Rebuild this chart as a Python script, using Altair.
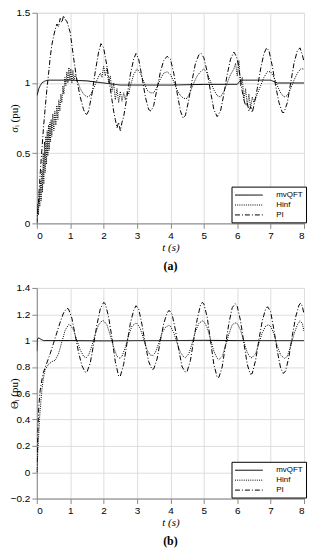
import altair as alt
import pandas as pd

SERIES = ["mvQFT", "Hinf", "PI"]

# ---------------- panel (a): sigma_i ----------------
a_mvqft_t = [0.00, 0.03, 0.06, 0.10, 0.15, 0.25, 0.35, 1.0, 1.5, 2.0, 2.5, 3.0, 4.0, 5.0, 6.0, 6.1, 7.0, 7.2, 8.0]
a_mvqft_v = [0.91, 0.93, 0.96, 0.98, 1.00, 1.015, 1.02, 1.02, 1.015, 1.00, 0.985, 0.985, 0.985, 0.99, 0.99, 1.02, 1.02, 1.00, 1.00]

a_hinf_t = [0.00, 0.03, 0.05, 0.07, 0.09, 0.11, 0.13, 0.15, 0.17, 0.19, 0.21, 0.23, 0.25, 0.27, 0.29,
            0.31, 0.33, 0.35, 0.37, 0.39, 0.41, 0.43, 0.45, 0.48, 0.51, 0.54, 0.57, 0.60, 0.63, 0.66,
            0.69, 0.72, 0.75, 0.78, 0.81, 0.84, 0.87, 0.90, 0.93, 0.96, 0.99, 1.02, 1.05, 1.08, 1.11,
            1.15, 1.2, 1.3, 1.4, 1.5, 1.6, 1.7, 1.8, 1.9, 1.95, 2.0, 2.05, 2.1, 2.15, 2.2, 2.25, 2.3,
            2.35, 2.4, 2.45, 2.5, 2.55, 2.6, 2.65, 2.7, 2.75, 2.8, 2.9, 3.0, 3.1, 3.2, 3.3, 3.4, 3.5,
            3.6, 3.7, 3.8, 3.9, 4.0, 4.1, 4.2, 4.3, 4.4, 4.5, 4.6, 4.7, 4.8, 4.9, 5.0, 5.1, 5.2, 5.3,
            5.4, 5.5, 5.6, 5.7, 5.8, 5.9, 5.95, 6.0, 6.05, 6.1, 6.15, 6.2, 6.25, 6.3, 6.35, 6.4, 6.45,
            6.5, 6.6, 6.7, 6.8, 6.9, 7.0, 7.1, 7.2, 7.3, 7.4, 7.5, 7.6, 7.7, 7.8, 7.9, 8.0]
a_hinf_v = [0.02, 0.14, 0.06, 0.22, 0.12, 0.30, 0.16, 0.38, 0.22, 0.50, 0.28, 0.58, 0.36, 0.62, 0.42,
            0.66, 0.48, 0.70, 0.52, 0.72, 0.58, 0.74, 0.62, 0.78, 0.66, 0.80, 0.70, 0.84, 0.74, 0.88,
            0.80, 0.92, 0.86, 0.98, 0.92, 1.04, 0.98, 1.08, 1.00, 1.11, 1.02, 1.10, 1.00, 1.09, 1.02,
            1.06, 1.02, 0.96, 0.92, 0.90, 0.91, 0.96, 1.02, 1.07, 1.04, 1.12, 1.05, 1.11, 1.00, 1.05, 0.94, 1.00,
            0.88, 0.96, 0.86, 0.94, 0.87, 0.93, 0.88, 0.94, 0.92, 0.98, 1.06, 1.10, 1.07, 1.01, 0.95, 0.93, 0.93,
            0.97, 1.03, 1.07, 1.08, 1.06, 1.01, 0.95, 0.91, 0.89, 0.89, 0.94, 1.00, 1.05, 1.08, 1.10, 1.07, 1.01, 0.95,
            0.91, 0.90, 0.94, 1.00, 1.06, 1.10, 1.14, 1.05, 1.16, 0.98, 1.04, 0.88, 0.96, 0.84, 0.92, 0.82, 0.90,
            0.86, 0.92, 0.98, 1.04, 1.08, 1.08, 1.04, 0.98, 0.93, 0.90, 0.91, 0.96, 1.02, 1.07, 1.10, 1.10]

a_pi_t = [0.00, 0.05, 0.10, 0.15, 0.20, 0.25, 0.30, 0.35, 0.40, 0.45, 0.50, 0.55, 0.60, 0.65, 0.70, 0.75,
          0.80, 0.85, 0.90, 0.95, 1.00, 1.10, 1.20, 1.30, 1.40, 1.48, 1.55, 1.65, 1.75, 1.85, 1.92, 2.0,
          2.1, 2.2, 2.3, 2.35, 2.4, 2.45, 2.5, 2.55, 2.6, 2.7, 2.8, 2.9, 2.97, 3.05, 3.15, 3.25, 3.35,
          3.42, 3.5, 3.6, 3.7, 3.8, 3.9, 4.0, 4.1, 4.2, 4.3, 4.38, 4.45, 4.55, 4.65, 4.75, 4.85, 4.92,
          5.0, 5.1, 5.2, 5.3, 5.4, 5.5, 5.6, 5.7, 5.8, 5.9, 5.95, 6.0, 6.05, 6.1, 6.15, 6.2, 6.25, 6.3,
          6.35, 6.4, 6.45, 6.5, 6.6, 6.7, 6.8, 6.88, 6.95, 7.05, 7.15, 7.25, 7.35, 7.4, 7.5, 7.6, 7.7,
          7.8, 7.88, 7.95, 8.0]
a_pi_v = [0.00, 0.15, 0.35, 0.52, 0.68, 0.82, 0.95, 1.06, 1.18, 1.27, 1.33, 1.38, 1.42, 1.40, 1.46, 1.43,
          1.48, 1.45, 1.44, 1.40, 1.36, 1.18, 1.02, 0.90, 0.81, 0.77, 0.80, 0.92, 1.08, 1.22, 1.28, 1.25,
          1.12, 0.96, 0.80, 0.74, 0.68, 0.72, 0.66, 0.72, 0.76, 0.90, 1.06, 1.17, 1.21, 1.17, 1.04, 0.90, 0.81,
          0.80, 0.84, 0.96, 1.08, 1.16, 1.19, 1.17, 1.07, 0.93, 0.80, 0.75, 0.77, 0.88, 1.02, 1.14, 1.20, 1.21,
          1.18, 1.08, 0.94, 0.81, 0.76, 0.80, 0.92, 1.06, 1.17, 1.22, 1.20, 1.17, 1.10, 1.02, 0.94, 0.88, 0.84, 0.86,
          0.80, 0.83, 0.79, 0.84, 0.96, 1.10, 1.21, 1.25, 1.23, 1.12, 0.98, 0.86, 0.79, 0.79, 0.86, 1.00, 1.14,
          1.23, 1.25, 1.20, 1.15]

# ---------------- panel (b): theta_i ----------------
b_mvqft_t = [0.00, 0.01, 0.03, 0.06, 0.12, 0.20, 1.0, 2.0, 3.0, 4.0, 5.0, 6.0, 7.0, 8.0]
b_mvqft_v = [0.92, 1.00, 1.015, 1.02, 1.01, 1.00, 1.00, 0.998, 1.00, 1.00, 1.002, 1.00, 1.00, 1.00]

b_hinf_t = [0.00, 0.02, 0.05, 0.08, 0.10, 0.15, 0.20, 0.25, 0.30, 0.35, 0.45, 0.55, 0.65, 0.75, 0.85, 0.95,
            1.0, 1.1, 1.2, 1.3, 1.4, 1.48, 1.55, 1.65, 1.75, 1.85, 1.95, 2.0, 2.1, 2.2, 2.3, 2.4, 2.49,
            2.55, 2.65, 2.75, 2.85, 2.95, 3.0, 3.1, 3.2, 3.3, 3.4, 3.48, 3.55, 3.65, 3.75, 3.85, 3.95,
            4.0, 4.1, 4.2, 4.3, 4.4, 4.45, 4.55, 4.65, 4.75, 4.85, 4.95, 5.0, 5.1, 5.2, 5.3, 5.4, 5.45,
            5.55, 5.65, 5.75, 5.85, 5.94, 6.0, 6.1, 6.2, 6.3, 6.4, 6.44, 6.55, 6.65, 6.75, 6.85, 6.93,
            7.0, 7.1, 7.2, 7.3, 7.41, 7.5, 7.6, 7.7, 7.8, 7.88, 7.95, 8.0]
b_hinf_v = [0.00, 0.10, 0.25, 0.40, 0.47, 0.62, 0.72, 0.78, 0.80, 0.82, 0.84, 0.85, 0.90, 0.99, 1.08, 1.12,
            1.12, 1.08, 1.00, 0.93, 0.88, 0.87, 0.89, 0.96, 1.05, 1.12, 1.15, 1.15, 1.12, 1.04, 0.95, 0.88, 0.865,
            0.88, 0.95, 1.04, 1.11, 1.13, 1.13, 1.09, 1.01, 0.93, 0.89, 0.887, 0.91, 0.98, 1.06, 1.10, 1.115,
            1.11, 1.06, 0.98, 0.91, 0.875, 0.87, 0.90, 0.98, 1.07, 1.13, 1.15, 1.145, 1.10, 1.01, 0.92, 0.865, 0.855,
            0.88, 0.96, 1.05, 1.12, 1.135, 1.13, 1.08, 0.99, 0.91, 0.87, 0.87, 0.90, 0.98, 1.06, 1.11, 1.12,
            1.11, 1.05, 0.96, 0.89, 0.865, 0.88, 0.96, 1.05, 1.12, 1.15, 1.13, 1.07]

b_pi_t = [0.00, 0.03, 0.06, 0.10, 0.15, 0.20, 0.30, 0.40, 0.50, 0.60, 0.70, 0.80, 0.90, 0.95, 1.05, 1.15,
          1.25, 1.35, 1.45, 1.5, 1.6, 1.7, 1.8, 1.9, 2.0, 2.05, 2.15, 2.25, 2.35, 2.45, 2.5, 2.6, 2.7,
          2.8, 2.9, 2.97, 3.05, 3.15, 3.25, 3.35, 3.45, 3.5, 3.6, 3.7, 3.8, 3.9, 3.96, 4.05, 4.15, 4.25,
          4.35, 4.45, 4.5, 4.6, 4.7, 4.8, 4.9, 4.95, 5.0, 5.1, 5.2, 5.3, 5.4, 5.45, 5.55, 5.65, 5.75,
          5.85, 5.94, 6.0, 6.1, 6.2, 6.3, 6.39, 6.45, 6.55, 6.65, 6.75, 6.85, 6.91, 7.0, 7.1, 7.2, 7.3,
          7.38, 7.45, 7.55, 7.65, 7.75, 7.85, 7.9, 7.95, 8.0]
b_pi_v = [0.00, 0.30, 0.50, 0.62, 0.70, 0.76, 0.83, 0.90, 0.98, 1.06, 1.14, 1.21, 1.245, 1.24, 1.17, 1.04,
          0.91, 0.81, 0.76, 0.76, 0.83, 0.97, 1.12, 1.24, 1.29, 1.28, 1.18, 1.02, 0.84, 0.73, 0.73, 0.82, 0.98,
          1.13, 1.23, 1.265, 1.24, 1.12, 0.97, 0.84, 0.78, 0.785, 0.86, 1.00, 1.13, 1.21, 1.23, 1.20, 1.08, 0.93,
          0.80, 0.76, 0.765, 0.85, 1.01, 1.16, 1.27, 1.29, 1.28, 1.18, 1.00, 0.82, 0.72, 0.72, 0.80, 0.97, 1.13,
          1.25, 1.28, 1.26, 1.15, 0.98, 0.82, 0.745, 0.75, 0.85, 1.01, 1.15, 1.24, 1.257, 1.22, 1.08, 0.92, 0.79,
          0.75, 0.77, 0.88, 1.04, 1.18, 1.27, 1.285, 1.26, 1.20]

X_TICKS = [0, 1, 2, 3, 4, 5, 6, 7, 8]
A_Y_TICKS = [0, 0.5, 1, 1.5]
B_Y_TICKS = [-0.2, 0, 0.2, 0.4, 0.6, 0.8, 1.0, 1.2, 1.4]


def frame(parts):
    rows = []
    for name, ts, vs in parts:
        for t, v in zip(ts, vs):
            rows.append({"t": t, "v": v, "series": name})
    return pd.DataFrame(rows)


df_a = frame([("mvQFT", a_mvqft_t, a_mvqft_v), ("Hinf", a_hinf_t, a_hinf_v), ("PI", a_pi_t, a_pi_v)])
df_b = frame([("mvQFT", b_mvqft_t, b_mvqft_v), ("Hinf", b_hinf_t, b_hinf_v), ("PI", b_pi_t, b_pi_v)])

LABEL_FONT = "Liberation Sans"
SERIF = "Liberation Serif"


def panel(df, ydom, yticks, ytitle, caption):
    x = alt.X("t:Q", scale=alt.Scale(domain=[0, 8], nice=False),
              axis=alt.Axis(values=X_TICKS, format="~g", title="t (s)",
                            titleFont=SERIF, titleFontStyle="italic", titleFontWeight="normal",
                            titleFontSize=11, titlePadding=1, labelPadding=2))
    y = alt.Y("v:Q", scale=alt.Scale(domain=ydom, nice=False),
              axis=alt.Axis(values=yticks, format="~g", title=ytitle,
                            titleFont=SERIF, titleFontStyle="normal", titleFontWeight="normal",
                            titleFontSize=11, titlePadding=1, labelPadding=2,
                            minExtent=16, maxExtent=16))
    dash = alt.StrokeDash(
        "series:N",
        scale=alt.Scale(domain=SERIES, range=[[1, 0], [1, 1.2], [5, 2, 1, 2]]),
        legend=alt.Legend(title=None, orient="none", legendX=196, legendY=175,
                          symbolType="M-2.8,0H2.8", symbolSize=100, symbolOffset=9,
                          symbolStrokeColor="black", symbolStrokeWidth=1,
                          labelFont=LABEL_FONT, labelFontSize=8, labelColor="black",
                          labelOffset=22, padding=3, rowPadding=0,
                          strokeColor="black", fillColor="white"),
    )
    return alt.Chart(df, title=alt.TitleParams(caption, orient="bottom", font=SERIF,
                                                 fontSize=12, fontWeight="bold", offset=9,
                                                 color="black")).mark_line(
        color="black", strokeWidth=1, clip=True
    ).encode(x=x, y=y, strokeDash=dash).properties(width=269, height=212)


top = panel(df_a, [0, 1.5], A_Y_TICKS, "σᵢ (pu)", "(a)")
bottom = panel(df_b, [-0.2, 1.4], B_Y_TICKS, "Θᵢ (pu)", "(b)")

chart = alt.vconcat(top, bottom, spacing=9).resolve_scale(strokeDash="independent").properties(
    padding={"left": 0, "top": -3, "right": 2, "bottom": 0}
).configure_view(stroke="black", strokeWidth=1, fill="white").configure_axis(
    grid=True, gridColor="#c4c4c4", gridWidth=0.8, domain=False, tickSize=0,
    labelFont=LABEL_FONT, labelFontSize=7, labelFontWeight="bold", labelColor="black",
    titleColor="black"
).configure(background="white")

chart.save("out.html", embed_options={"renderer": "svg", "actions": False})
